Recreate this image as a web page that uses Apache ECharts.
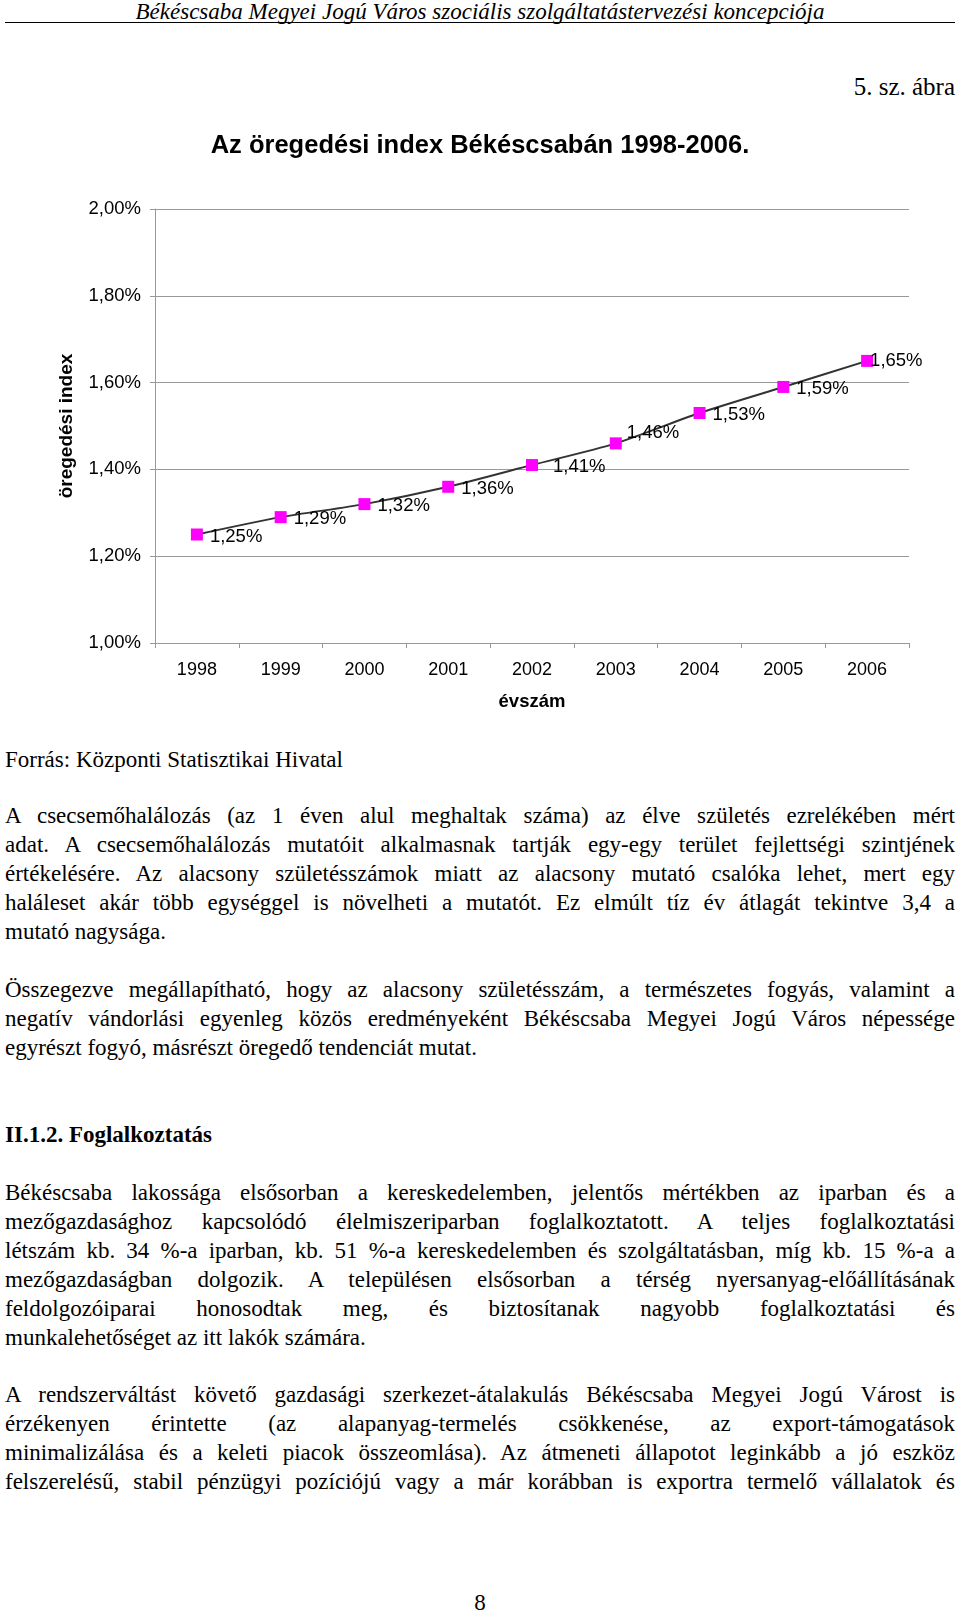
<!DOCTYPE html>
<html><head><meta charset="utf-8">
<script src="https://cdn.jsdelivr.net/npm/echarts@6/dist/echarts.min.js"></script>
<style>
html,body{margin:0;padding:0;background:#fff;}
body{width:960px;height:1613px;position:relative;overflow:hidden;font-family:"Liberation Serif","Times New Roman",serif;color:#000;}
#chart{position:absolute;left:0;top:0;width:960px;height:730px;}
.abs{position:absolute;}
.para{position:absolute;left:5px;width:950px;font-size:23px;}
.para div{height:29px;line-height:29px;text-align:justify;text-align-last:justify;white-space:normal;}
.para div.last{text-align-last:left;}
</style></head>
<body>
<div class="abs" style="left:0;top:0;width:960px;text-align:center;font-style:italic;font-size:23px;line-height:24px;">Békéscsaba Megyei Jogú Város szociális szolgáltatástervezési koncepciója</div>
<div class="abs" style="left:5px;top:22px;width:950px;height:0;border-top:1.5px solid #000;"></div>
<div class="abs" style="right:5px;top:73px;font-size:25px;line-height:28px;">5. sz. ábra</div>
<div id="chart"></div>
<div class="abs" style="left:5px;top:745px;font-size:23px;line-height:29px;">Forrás: Központi Statisztikai Hivatal</div>
<div class="para" style="top:801px;">
<div>A csecsemőhalálozás (az 1 éven alul meghaltak száma) az élve születés ezrelékében mért</div>
<div>adat. A csecsemőhalálozás mutatóit alkalmasnak tartják egy-egy terület fejlettségi szintjének</div>
<div>értékelésére. Az alacsony születésszámok miatt az alacsony mutató csalóka lehet, mert egy</div>
<div>haláleset akár több egységgel is növelheti a mutatót. Ez elmúlt tíz év átlagát tekintve 3,4 a</div>
<div class="last">mutató nagysága.</div>
</div>
<div class="para" style="top:975px;">
<div>Összegezve megállapítható, hogy az alacsony születésszám, a természetes fogyás, valamint a</div>
<div>negatív vándorlási egyenleg közös eredményeként Békéscsaba Megyei Jogú Város népessége</div>
<div class="last">egyrészt fogyó, másrészt öregedő tendenciát mutat.</div>
</div>
<div class="abs" style="left:5px;top:1120px;font-size:23px;line-height:29px;font-weight:bold;">II.1.2. Foglalkoztatás</div>
<div class="para" style="top:1178px;">
<div>Békéscsaba lakossága elsősorban a kereskedelemben, jelentős mértékben az iparban és a</div>
<div>mezőgazdasághoz kapcsolódó élelmiszeriparban foglalkoztatott. A teljes foglalkoztatási</div>
<div>létszám kb. 34 %-a iparban, kb. 51 %-a kereskedelemben és szolgáltatásban, míg kb. 15 %-a a</div>
<div>mezőgazdaságban dolgozik. A településen elsősorban a térség nyersanyag-előállításának</div>
<div>feldolgozóiparai honosodtak meg, és biztosítanak nagyobb foglalkoztatási és</div>
<div class="last">munkalehetőséget az itt lakók számára.</div>
</div>
<div class="para" style="top:1380px;">
<div>A rendszerváltást követő gazdasági szerkezet-átalakulás Békéscsaba Megyei Jogú Várost is</div>
<div>érzékenyen érintette (az alapanyag-termelés csökkenése, az export-támogatások</div>
<div>minimalizálása és a keleti piacok összeomlása). Az átmeneti állapotot leginkább a jó eszköz</div>
<div>felszerelésű, stabil pénzügyi pozíciójú vagy a már korábban is exportra termelő vállalatok és</div>
</div>
<div class="abs" style="left:0;top:1588px;width:960px;text-align:center;font-size:23px;line-height:29px;">8</div>
<script>
const years = ['1998','1999','2000','2001','2002','2003','2004','2005','2006'];
const agingIndex = [1.25, 1.29, 1.32, 1.36, 1.41, 1.46, 1.53, 1.59, 1.65];
const yTicks = { min: 1.0, max: 2.0, step: 0.2 };
const chartTitle = 'Az öregedési index Békéscsabán 1998-2006.';
const yName = 'öregedési index';
const xName = 'évszám';

const fmt = v => v.toFixed(2).replace('.', ',') + '%';
const labelOffsets = { 4: [8, 2], 5: [-2, -10], 8: [-10, 0] };
const seriesData = agingIndex.map((v, i) => {
  const d = { value: v };
  if (labelOffsets[i]) d.label = { offset: labelOffsets[i] };
  return d;
});

const chart = echarts.init(document.getElementById('chart'), null, { renderer: 'canvas' });
chart.setOption({
  animation: false,
  textStyle: { fontFamily: '"Liberation Sans", Arial, sans-serif' },
  title: {
    text: chartTitle, left: 'center', top: 128,
    textStyle: { fontSize: 25.5, fontWeight: 'bold', color: '#000', fontFamily: '"Liberation Sans", Arial, sans-serif' }
  },
  grid: { left: 155, right: 51, top: 209, bottom: 87, containLabel: false },
  xAxis: {
    type: 'category', data: years, boundaryGap: true,
    name: xName, nameLocation: 'middle', nameGap: 49,
    nameTextStyle: { fontSize: 18.5, fontWeight: 'bold', color: '#000' },
    axisLine: { lineStyle: { color: '#999', width: 1 } },
    axisTick: { show: true, length: 5, lineStyle: { color: '#999' } },
    axisLabel: { fontSize: 18, color: '#000', margin: 18 }
  },
  yAxis: {
    type: 'value', min: yTicks.min, max: yTicks.max, interval: yTicks.step,
    name: yName, nameLocation: 'middle', nameRotate: 90, nameGap: 79,
    nameTextStyle: { fontSize: 19, fontWeight: 'bold', color: '#000' },
    axisLine: { show: true, lineStyle: { color: '#999', width: 1 } },
    axisTick: { show: true, length: 5, lineStyle: { color: '#999' } },
    axisLabel: { fontSize: 18.5, color: '#000', margin: 14, formatter: fmt },
    splitLine: { show: true, lineStyle: { color: '#999', width: 1 } }
  },
  series: [{
    type: 'line', data: seriesData, smooth: 0.25,
    symbol: 'rect', symbolSize: 12,
    lineStyle: { color: '#333', width: 2 },
    itemStyle: { color: '#ff00ff' },
    label: {
      show: true, position: 'right', distance: 7, fontSize: 18.5, color: '#000',
      offset: [0, 2],
      formatter: p => fmt(p.value)
    },
    z: 3
  }]
});
</script>
</body></html>
